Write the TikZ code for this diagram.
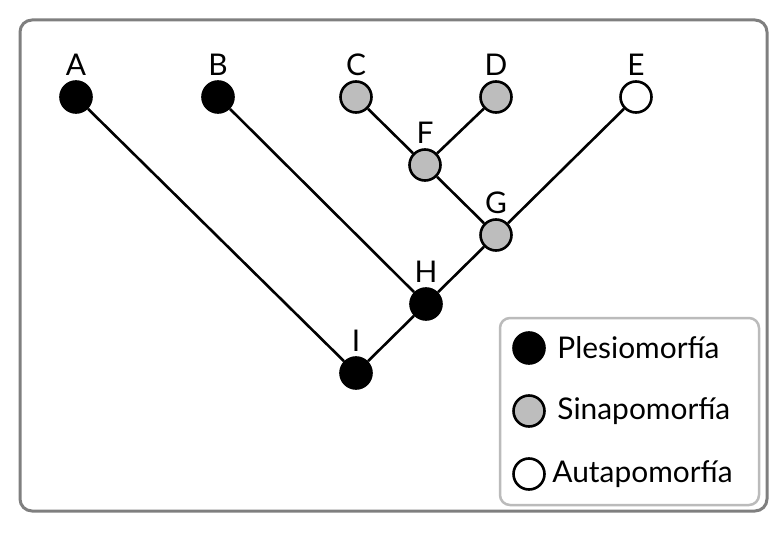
\documentclass[tikz,border=0pt]{standalone}
\usepackage{fontspec}
\setmainfont{Lato}
\usetikzlibrary{positioning}

\definecolor{framegray}{HTML}{7F7F7F}
\definecolor{boxgray}{HTML}{BBBBBB}
\definecolor{sinfill}{HTML}{BDBDBD}

\begin{document}
\begin{tikzpicture}[x=1bp, y=-1bp, line width=2.6bp, font=\fontsize{30}{33}\selectfont]
    \tikzstyle{taxon} = [draw, circle, minimum size=31bp, inner sep=0pt, label distance=3bp]
    \tikzstyle{plesio} = [taxon, fill=black]
    \tikzstyle{sinapo} = [taxon, fill=sinfill]
    \tikzstyle{autapo} = [taxon, fill=white]

    \useasboundingbox (0,0) rectangle (784,537);
    \draw[framegray, line width=3bp, rounded corners=12bp] (20,20) rectangle (767,511);

    \begin{scope}
        \path
            node[plesio, label=above:A] (a) at (76,97) {}
            node[plesio, label=above:B] (b) at (218,97) {}
            node[sinapo, label=above:C] (c) at (356,97) {}
            node[sinapo, label=above:D] (d) at (496,97) {}
            node[autapo, label=above:E] (e) at (636,97) {}
            node[sinapo, label=above:F] (f) at (425,165) {}
            node[sinapo, label=above:G] (g) at (496,235) {}
            node[plesio, label=above:H] (h) at (426,304) {}
            node[plesio, label=above:I] (i) at (356,373) {}

            (a) edge (i)
            (b) edge (h)
            (c) edge (f)
            (d) edge (f)
            (f) edge (g)
            (e) edge (g)
            (g) edge (h)
            (h) edge (i)
            ;
    \end{scope}

    \begin{scope}
        \draw[boxgray, line width=2.5bp, rounded corners=10bp, fill=white] (500,318) rectangle (759,505);
        \node[plesio] (lp) at (529,348) {};
        \node[sinapo] (ls) at (529,411) {};
        \node[autapo] (la) at (529,474) {};
        \node[right=7bp of lp] (tp) {Plesiomorfía};
        \node[right=7bp of ls] (ts) {Sinapomorfía};
        \node[right=2bp of la] (ta) {Autapomorfía};
    \end{scope}
\end{tikzpicture}
\end{document}
